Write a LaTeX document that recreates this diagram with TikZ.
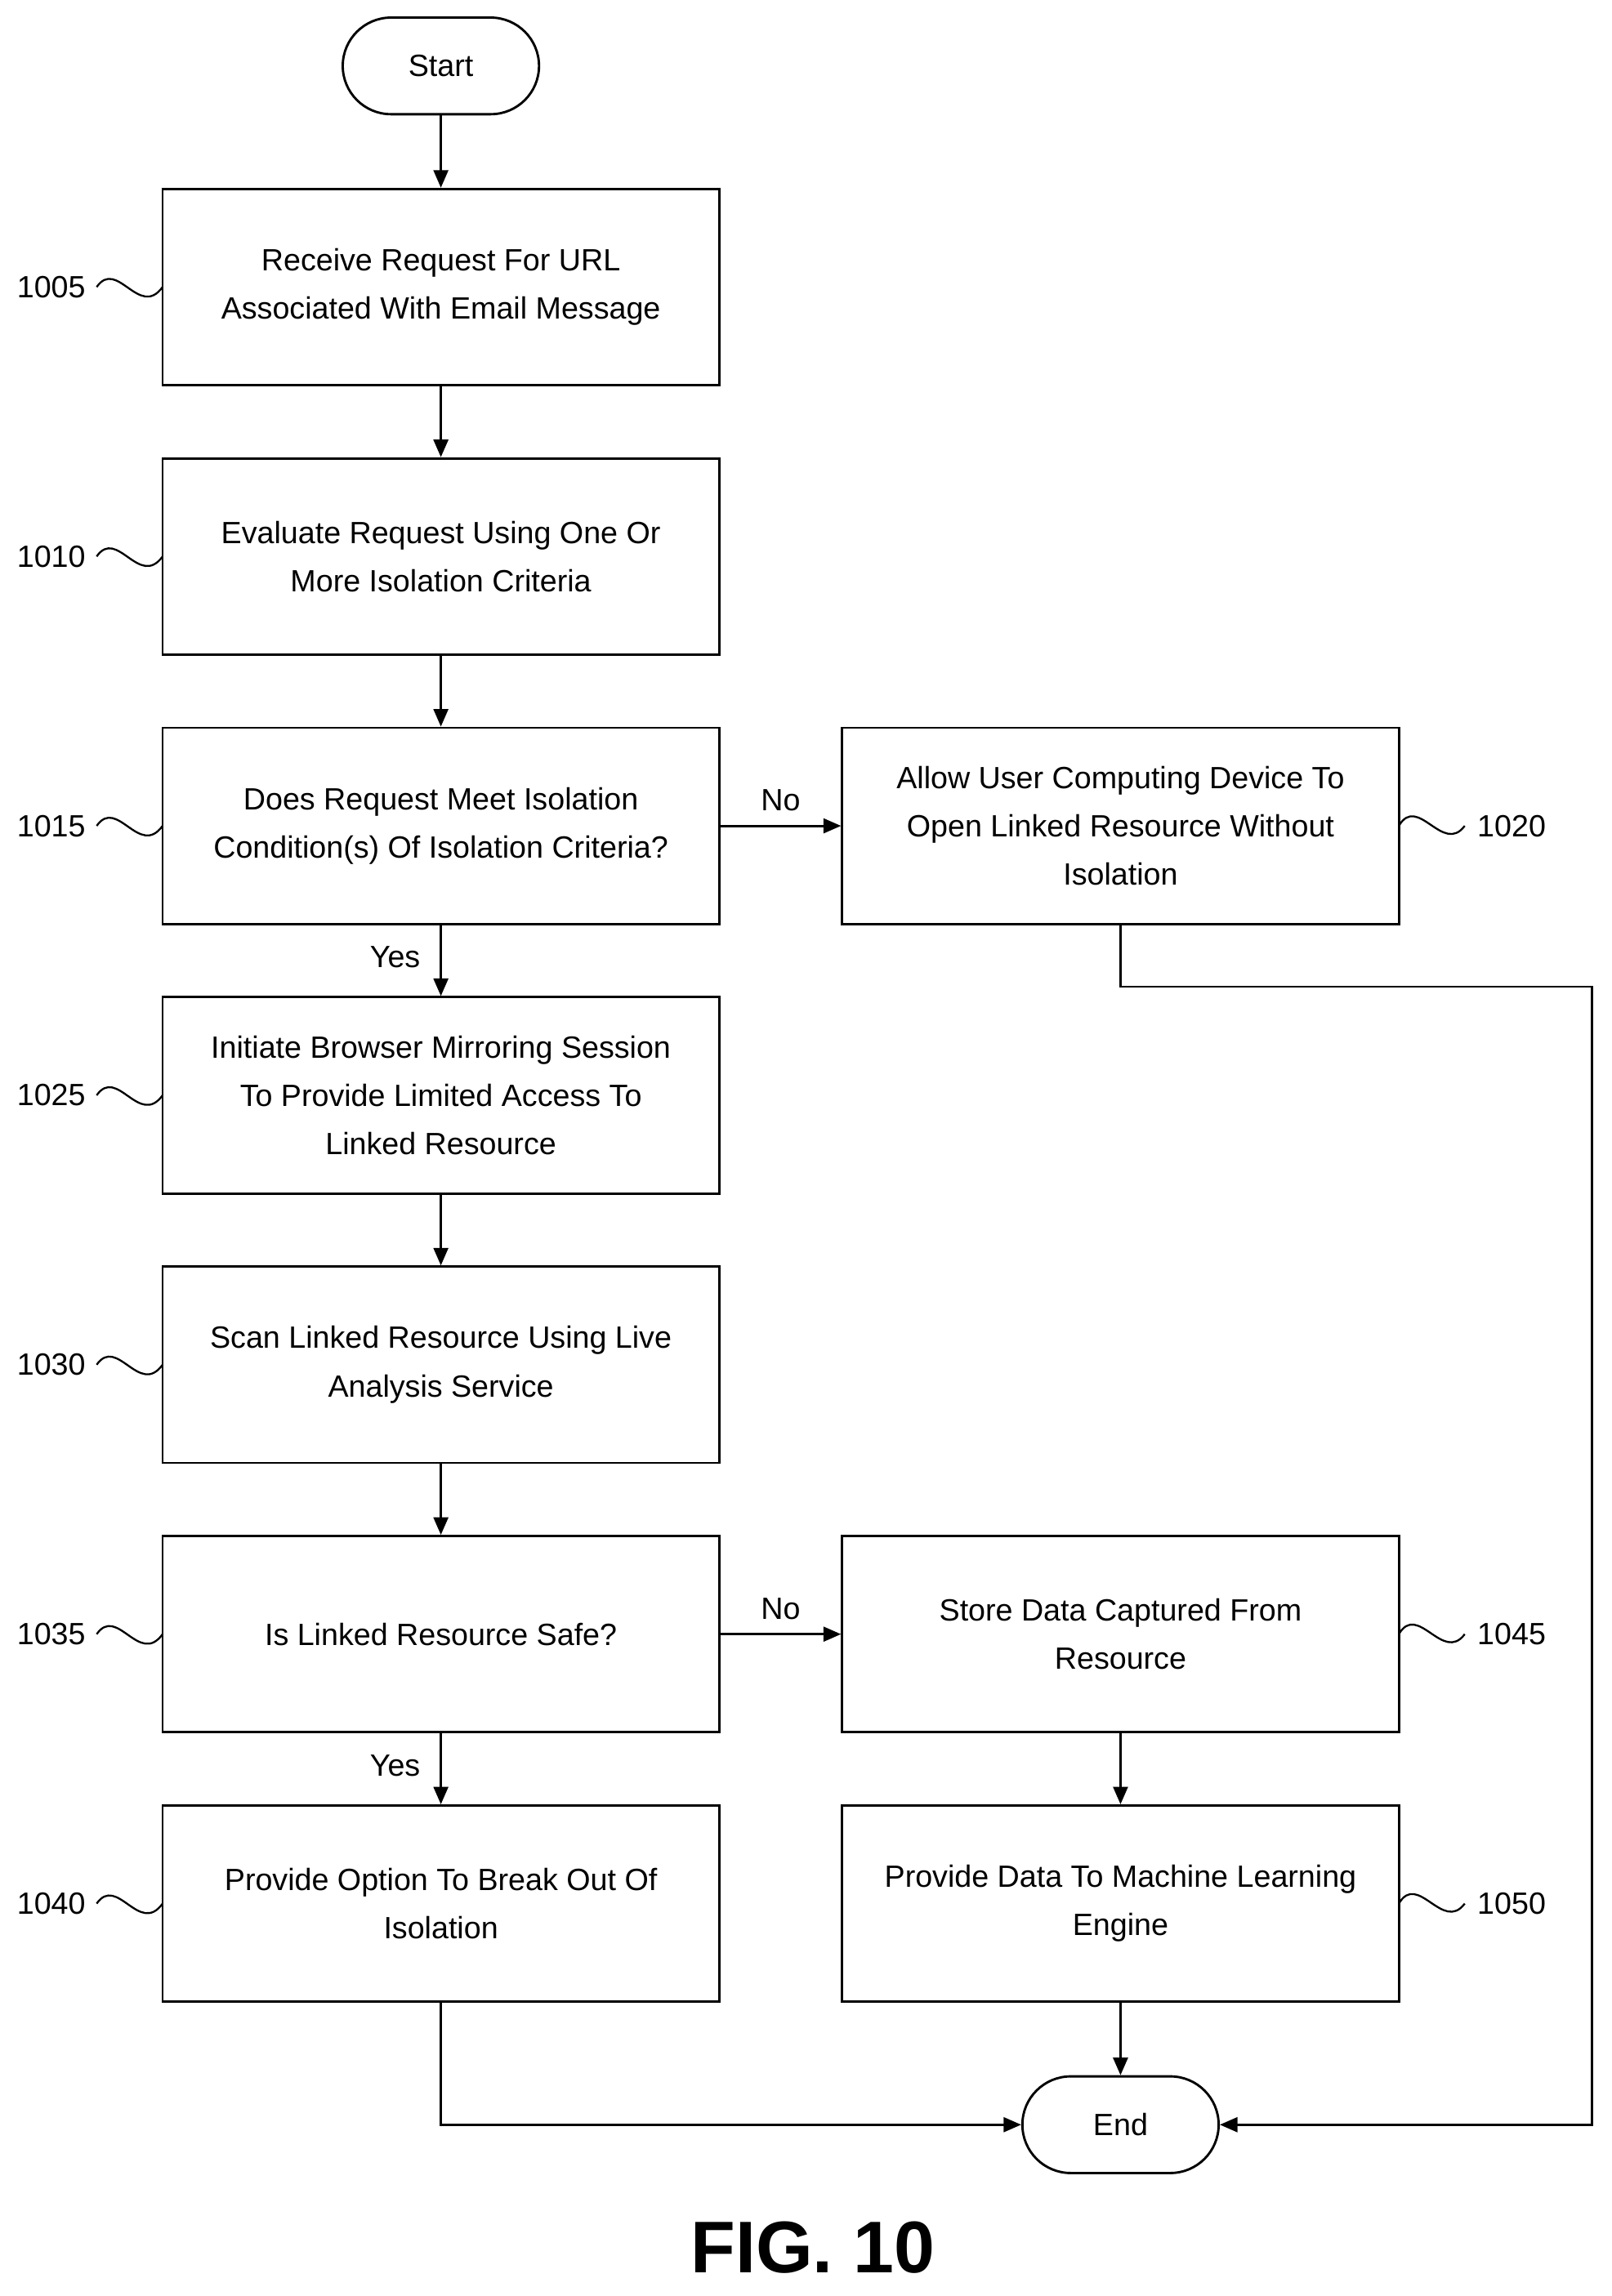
\documentclass[tikz,border=0pt]{standalone}
\usepackage{fontspec}
\setmainfont{Liberation Sans}
\usetikzlibrary{arrows.meta}
\begin{document}
\begin{tikzpicture}[x=1pt,y=-1pt,
  box/.style={draw,line width=1.6pt,minimum width=380pt,minimum height=134pt,align=center,font=\fontsize{21}{33}\selectfont,inner sep=0pt},
  term/.style={draw,line width=1.6pt,rounded corners=33pt,minimum width=134pt,minimum height=66pt,font=\fontsize{21}{25}\selectfont},
  arr/.style={line width=1.6pt,-{Triangle[length=12pt,width=10pt]}},
  lbl/.style={font=\fontsize{21}{25}\selectfont},
  sq/.style={line width=1.3pt}]
\useasboundingbox (0,0) rectangle (1100,1568);
\node[term] (start) at (301,45) {Start};
\node[box] (b1005) at (301,196) {Receive Request For URL\\Associated With Email Message};
\node[box] (b1010) at (301,380) {Evaluate Request Using One Or\\More Isolation Criteria};
\node[box] (b1015) at (301,564) {Does Request Meet Isolation\\Condition(s) Of Isolation Criteria?};
\node[box] (b1025) at (301,748) {Initiate Browser Mirroring Session\\To Provide Limited Access To\\Linked Resource};
\node[box] (b1030) at (301,932) {Scan Linked Resource Using Live\\Analysis Service};
\node[box] (b1035) at (301,1116) {Is Linked Resource Safe?};
\node[box] (b1040) at (301,1300) {Provide Option To Break Out Of\\Isolation};
\node[box] (b1020) at (765,564) {Allow User Computing Device To\\Open Linked Resource Without\\Isolation};
\node[box] (b1045) at (765,1116) {Store Data Captured From\\Resource};
\node[box] (b1050) at (765,1300) {Provide Data To Machine Learning\\Engine};
\node[term] (end) at (765,1451) {End};
\draw[arr] (start) -- (b1005);
\draw[arr] (b1005) -- (b1010);
\draw[arr] (b1010) -- (b1015);
\draw[arr] (b1015) -- node[lbl,left=10pt,pos=0.45] {Yes} (b1025);
\draw[arr] (b1025) -- (b1030);
\draw[arr] (b1030) -- (b1035);
\draw[arr] (b1035) -- node[lbl,left=10pt,pos=0.45] {Yes} (b1040);
\draw[arr] (b1015) -- node[lbl,above=6pt] {No} (b1020);
\draw[arr] (b1035) -- node[lbl,above=6pt] {No} (b1045);
\draw[arr] (b1045) -- (b1050);
\draw[arr] (b1050) -- (end);
\draw[arr] (b1040.south) |- (end.west);
\draw[arr] (b1020.south) -- ++(0,42) -| (1087,1451) -- (end.east);
\foreach \y/\t in {196/1005,380/1010,564/1015,748/1025,932/1030,1116/1035,1300/1040}{
  \node[lbl] at (35,\y) {\t};
  \draw[sq] (66,\y) .. controls (80,\y-20) and (95,\y+22) .. (111,\y);
}
\foreach \y/\t in {564/1020,1116/1045,1300/1050}{
  \node[lbl] at (1032,\y) {\t};
  \draw[sq] (955,\y) .. controls (968,\y-22) and (985,\y+20) .. (1000,\y);
}
\node[font=\fontsize{50}{55}\selectfont\bfseries] (fig) at (555,1535) {FIG. 10};
\end{tikzpicture}
\end{document}
